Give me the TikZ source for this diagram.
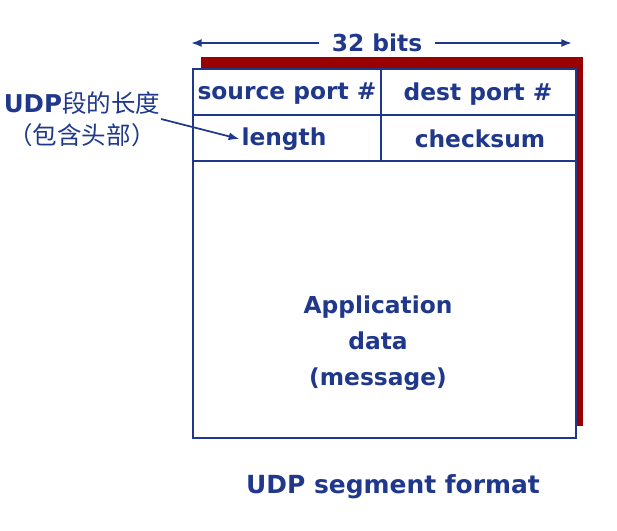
\documentclass[tikz,border=0pt]{standalone}
\usepackage{fontspec}
\setmainfont{DejaVu Sans}
\newfontfamily\cjk{Noto Sans CJK SC}
\usetikzlibrary{arrows.meta}
\definecolor{udpblue}{RGB}{32,56,140}
\definecolor{shadowred}{RGB}{153,0,0}

\begin{document}
\begin{tikzpicture}[x=0.75pt, y=-0.75pt, >={Latex[length=8pt,width=6pt]}, line width=1.3pt,
    cell/.style={draw=udpblue, line width=1.2pt, fill=white, inner sep=0pt, anchor=north west,
      minimum height=34.5pt},
    txt/.style={text=udpblue, inner sep=1pt, font=\bfseries\fontsize{17.5}{20}\selectfont}]
  \useasboundingbox (0,0) rectangle (617,531);
  % shadow behind the segment
  \fill[shadowred] (201,57) rectangle (583,426);
  \node[cell, minimum width=287.25pt, minimum height=207.75pt] (data) at (192,160) {};
  \node[cell, minimum width=141pt] (src) at (192,68) {};
  \node[cell, minimum width=146.25pt] (dst) at (380,68) {};
  \node[cell, minimum width=141pt] (len) at (192,114) {};
  \node[cell, minimum width=146.25pt] (chk) at (380,114) {};
  \node[txt] (srcTxt) at (287,94) {source port \#};
  \node[txt] (dstTxt) at (478,94) {dest port \#};
  \node[txt] (lenTxt) at (284,139) {length};
  \node[txt] (chkTxt) at (480,139) {checksum};
  \node[txt, align=center, font=\bfseries\fontsize{17.5}{27}\selectfont] (app) at (378,343) {Application\\data\\(message)};
  % width marker
  \node[txt, inner sep=9pt] (bits) at (377,43) {32 bits};
  \coordinate (bitsL) at (191,43);
  \coordinate (bitsR) at (572,43);
  \draw[->, udpblue] (bits.west) -- (bitsL);
  \draw[->, udpblue] (bits.east) -- (bitsR);
  % note on the length field
  \node[text=udpblue, align=center, inner sep=0pt, font=\fontsize{18.4}{24}\selectfont] (note) at (82,119)
    {\textbf{UDP}\cjk 段的长度\\\cjk （包含头部）};
  \draw[->, udpblue] (note.east) -- (lenTxt.west);
  \node[txt, font=\bfseries\fontsize{18.7}{22}\selectfont] (title) at (393,487) {UDP segment format};
\end{tikzpicture}
\end{document}
